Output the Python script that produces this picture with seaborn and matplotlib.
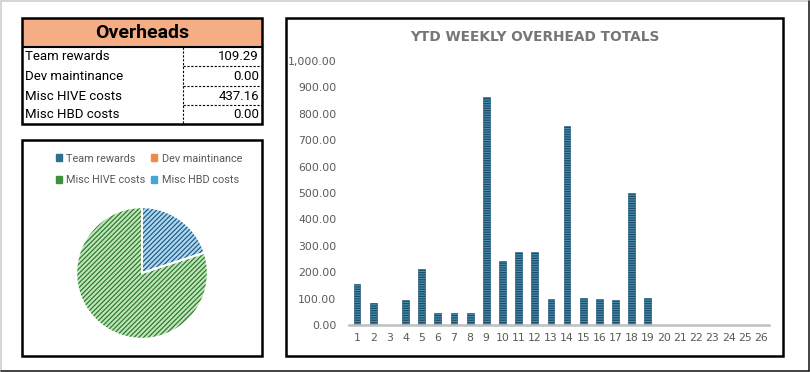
import matplotlib
matplotlib.use("Agg")
import matplotlib.pyplot as plt
import seaborn as sns
import pandas as pd
from matplotlib.patches import Rectangle, Patch
from matplotlib.lines import Line2D

# ---------------- data ----------------
categories = ["Team rewards", "Dev maintinance", "Misc HIVE costs", "Misc HBD costs"]
overhead_values = [109.29, 0.00, 437.16, 0.00]
weeks = ["1", "2", "3", "4", "5", "6", "7", "8", "9", "10", "11", "12", "13",
         "14", "15", "16", "17", "18", "19", "20", "21", "22", "23", "24", "25", "26"]
weekly_totals = [155, 82, 0, 94, 214, 44, 44, 44, 865, 244, 278, 278, 97,
                 754, 101, 97, 93, 501, 104, 0, 0, 0, 0, 0, 0, 0]
y_ticks = [0, 100, 200, 300, 400, 500, 600, 700, 800, 900, 1000]
title_text = "YTD WEEKLY OVERHEAD TOTALS"
table_title = "Overheads"

# ---------------- setup ----------------
sns.set_theme(style="white")
plt.rcParams["font.family"] = ["DejaVu Sans"]
plt.rcParams["hatch.linewidth"] = 0.9

W, H = 810, 372
fig = plt.figure(figsize=(W / 100, H / 100), dpi=100)
fig.patch.set_facecolor("white")


def fr(x0, y0, x1, y1):
    return [x0 / W, 1 - y1 / H, (x1 - x0) / W, (y1 - y0) / H]


def fx(x):
    return x / W


def fy(y):
    return 1 - y / H


# outer frame
fig.add_artist(Line2D([fx(0.5), fx(0.5)], [fy(0.5), fy(370.5)], color="#d0d0d0", lw=1.2))
fig.add_artist(Line2D([fx(0.5), fx(808.5)], [fy(0.5), fy(0.5)], color="#d0d0d0", lw=1.2))
fig.add_artist(Line2D([fx(808.5), fx(808.5)], [fy(0.5), fy(370.5)], color="#222222", lw=1.2))
fig.add_artist(Line2D([fx(0.5), fx(808.5)], [fy(370.5), fy(370.5)], color="#222222", lw=1.2))

# ---------------- table ----------------
axt = fig.add_axes(fr(22, 18, 262, 124))
axt.set_xlim(22, 262)
axt.set_ylim(124, 18)
axt.axis("off")
axt.add_patch(Rectangle((22, 18), 240, 29, facecolor="#f4ad85", edgecolor="none"))
axt.add_patch(Rectangle((22, 18), 240, 106, facecolor="none", edgecolor="black", lw=1.8, clip_on=False))
axt.plot([22, 262], [47, 47], color="black", lw=1.5)
axt.plot([183, 183], [47, 124], color="black", lw=0.8, ls=(0, (2, 1.5)))
row_edges = [47, 66, 86, 105, 124]
for yb in row_edges[1:-1]:
    axt.plot([183, 262], [yb, yb], color="black", lw=0.8, ls=(0, (2, 1.5)))
axt.text(142, 33, table_title, ha="center", va="center", fontsize=14,
         fontweight="bold", family="Roboto", color="black")
for i, (lab, val) in enumerate(zip(categories, overhead_values)):
    yc = (row_edges[i] + row_edges[i + 1]) / 2 + 0.5
    axt.text(25, yc, lab, ha="left", va="center", fontsize=9.5, family="Roboto",
             color="black")
    axt.text(259, yc, f"{val:,.2f}", ha="right", va="center", fontsize=9.5, family="Roboto",
             color="black")

# ---------------- pie panel ----------------
fig.add_artist(Rectangle((fx(22), fy(356)), (262 - 22) / W, (356 - 140) / H,
                         transform=fig.transFigure, facecolor="none", edgecolor="black", lw=1.8))
axp = fig.add_axes(fr(75, 206, 209, 340))
fills = ["#b3d9ee", "#f8cbad", "#c2e6b8", "#bde1f3"]
hatch_cols = ["#1f5f8b", "#c55a11", "#2c7a33", "#2a86b8"]
wedges, _ = axp.pie(overhead_values, colors=fills, startangle=90, counterclock=False,
                    wedgeprops=dict(linewidth=0))
for w, hc in zip(wedges, hatch_cols):
    w.set_hatch("///////")
    w.set_edgecolor(hc)
    w.set_linewidth(0)
axp.pie(overhead_values, colors=["none"] * 4, startangle=90, counterclock=False,
        wedgeprops=dict(linewidth=1.3, edgecolor="white"))
axp.set_xlim(-1.02, 1.02)
axp.set_ylim(-1.02, 1.02)
axp.set_aspect("equal")

legend_cols = ["#2f6f91", "#f08a4b", "#3f8f3f", "#45a5d8"]
handles = [Patch(facecolor=c, edgecolor=c) for c in legend_cols]
order = [0, 2, 1, 3]  # column-major fill -> rows: (Team, Dev), (HIVE, HBD)
fig.legend([handles[i] for i in order], [categories[i] for i in order], ncol=2,
           loc="upper left", bbox_to_anchor=(fx(48), fy(146)), frameon=False,
           prop={"family": "Roboto", "size": 7.8}, labelcolor="#595959",
           handlelength=0.55, handleheight=0.55, handletextpad=0.45,
           columnspacing=0.5, labelspacing=1.1, borderpad=0.2)

# ---------------- bar panel ----------------
fig.add_artist(Rectangle((fx(286), fy(356)), (783 - 286) / W, (356 - 18) / H,
                         transform=fig.transFigure, facecolor="none", edgecolor="black", lw=1.8))
axb = fig.add_axes(fr(349, 61, 769, 325))
df = pd.DataFrame({"week": weeks, "total": weekly_totals})
sns.barplot(data=df, x="week", y="total", order=weeks, ax=axb, color="#4a8fb2",
            saturation=1, width=0.42, errorbar=None)
for p in axb.patches:
    p.set_hatch("-------")
    p.set_edgecolor("#1b4d69")
    p.set_linewidth(0.4)
axb.set_ylim(0, 1000)
axb.set_xlim(-0.5, len(weeks) - 0.5)
axb.set_yticks(y_ticks)
axb.set_yticklabels([f"{v:,.2f}" for v in y_ticks])
axb.set_xlabel("")
axb.set_ylabel("")
for s in ["top", "right", "left"]:
    axb.spines[s].set_visible(False)
axb.spines["bottom"].set_color("#bfbfbf")
axb.spines["bottom"].set_linewidth(1.8)
axb.tick_params(axis="both", length=0, labelsize=7.8, colors="#595959")
axb.tick_params(axis="y", pad=9)
axb.tick_params(axis="x", pad=6)
axb.grid(False)
axb.patch.set_alpha(0)
fig.text(fx(535), fy(37), title_text, ha="center", va="center", fontsize=9.9,
         fontweight="bold", color="#767676")

fig.savefig("out.png", dpi=100)
